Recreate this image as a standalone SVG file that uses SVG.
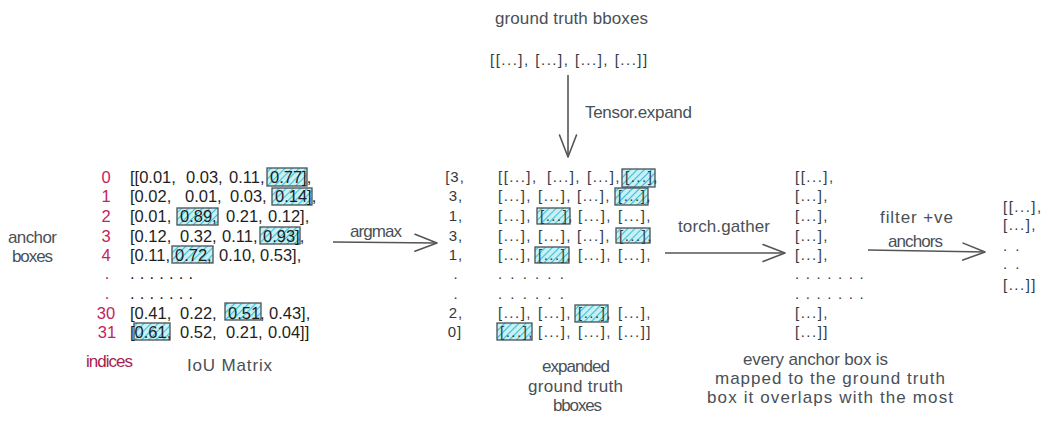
<svg xmlns="http://www.w3.org/2000/svg" width="1050" height="421" viewBox="0 0 1050 421">
<defs>
<pattern id="hatch" width="5" height="5" patternUnits="userSpaceOnUse" patternTransform="rotate(45)">
<rect width="5" height="5" fill="#c8f0f5"/>
<line x1="0" y1="0" x2="0" y2="5" stroke="#3bc0d4" stroke-width="2.2"/>
</pattern>
<marker id="ah" markerWidth="26" markerHeight="22" refX="23" refY="11" orient="auto" markerUnits="userSpaceOnUse">
<path d="M1,2.5 L23,11 L1,19.5" fill="none" stroke="#555" stroke-width="1.6" stroke-linecap="round" stroke-linejoin="round"/>
</marker>
</defs>
<style>
text{font-family:"Liberation Sans",Arial,sans-serif}
.m{font-size:16.5px;fill:#1e1e1e}
.ix{font-size:16.5px;fill:#c2255c;text-anchor:middle}
.s{font-size:15px;fill:#343a40;letter-spacing:1.5px}
.a{font-size:15px;fill:#343a40;letter-spacing:1px;text-anchor:middle}
.lb{font-size:17px;fill:#495057}
.hl{fill:url(#hatch);stroke:#495057;stroke-width:1.3}
.cn{stroke:#555;stroke-width:1.6;fill:none;marker-end:url(#ah)}
</style>
<rect width="1050" height="421" fill="#ffffff"/>

<g id="ground-truth">
<text class="lb" x="495" y="24" textLength="153">ground truth bboxes</text>
<text class="s" x="490" y="65">[[...], [...], [...], [...]]</text>
</g>

<g id="anchor-label">
<text class="lb" x="8" y="243" textLength="49">anchor</text>
<text class="lb" x="12" y="262" textLength="41">boxes</text>
</g>

<g id="indices">
<text class="ix" x="106" y="183">0</text>
<text class="ix" x="106" y="202">1</text>
<text class="ix" x="106" y="222">2</text>
<text class="ix" x="106" y="242">3</text>
<text class="ix" x="106" y="261">4</text>
<text class="ix" x="107" y="279">.</text>
<text class="ix" x="107" y="299">.</text>
<text class="ix" x="106" y="319">30</text>
<text class="ix" x="107" y="338">31</text>
<text x="86" y="367" font-size="17" fill="#a61e4d" textLength="47">indices</text>
</g>

<g id="iou-matrix">
<rect class="hl" x="267" y="168" width="40" height="18"/>
<rect class="hl" x="272" y="188" width="40" height="17"/>
<rect class="hl" x="177" y="208" width="41" height="17"/>
<rect class="hl" x="260" y="227" width="40" height="17"/>
<rect class="hl" x="172" y="246" width="41" height="17"/>
<rect class="hl" x="225" y="303" width="36" height="17"/>
<rect class="hl" x="134" y="323" width="36" height="17"/>
<text class="m" y="183"><tspan x="130">[[0.01,</tspan><tspan x="186">0.03,</tspan><tspan x="229">0.11,</tspan><tspan x="270">0.77],</tspan></text>
<text class="m" y="202"><tspan x="130">[0.02,</tspan><tspan x="185">0.01,</tspan><tspan x="230">0.03,</tspan><tspan x="275">0.14],</tspan></text>
<text class="m" y="222"><tspan x="130">[0.01,</tspan><tspan x="180">0.89,</tspan><tspan x="226">0.21,</tspan><tspan x="268">0.12],</tspan></text>
<text class="m" y="242"><tspan x="130">[0.12,</tspan><tspan x="180">0.32,</tspan><tspan x="222">0.11,</tspan><tspan x="263">0.93],</tspan></text>
<text class="m" y="261"><tspan x="130">[0.11,</tspan><tspan x="175">0.72,</tspan><tspan x="219">0.10,</tspan><tspan x="260">0.53],</tspan></text>
<text class="m" x="130" y="279" textLength="63">. . . . . . .</text>
<text class="m" x="130" y="299" textLength="63">. . . . . . .</text>
<text class="m" y="319"><tspan x="130">[0.41,</tspan><tspan x="180">0.22,</tspan><tspan x="228">0.51,</tspan><tspan x="269">0.43],</tspan></text>
<text class="m" y="338"><tspan x="130">[0.61,</tspan><tspan x="180">0.52,</tspan><tspan x="226">0.21,</tspan><tspan x="268">0.04]]</tspan></text>
<text class="lb" x="187" y="371" textLength="85">IoU Matrix</text>
</g>

<g id="argmax-result">
<text class="a" x="455" y="182">[3,</text>
<text class="a" x="456" y="201">3,</text>
<text class="a" x="456" y="221">1,</text>
<text class="a" x="456" y="241">3,</text>
<text class="a" x="456" y="260">1,</text>
<text class="a" x="456" y="279">.</text>
<text class="a" x="456" y="299">.</text>
<text class="a" x="456" y="318">2,</text>
<text class="a" x="455" y="337">0]</text>
</g>

<g id="expanded-gt">
<rect class="hl" x="622" y="169" width="33" height="18"/>
<rect class="hl" x="615" y="188" width="33" height="17"/>
<rect class="hl" x="537" y="208" width="33" height="16"/>
<rect class="hl" x="616" y="228" width="34" height="15"/>
<rect class="hl" x="535" y="247" width="34" height="16"/>
<rect class="hl" x="575" y="305" width="33" height="17"/>
<rect class="hl" x="497" y="323" width="35" height="17"/>
<text class="s" y="182"><tspan x="498">[[...],</tspan><tspan x="547">[...],</tspan><tspan x="587">[...],</tspan><tspan x="625">[...],</tspan></text>
<text class="s" y="201"><tspan x="498">[...],</tspan><tspan x="538">[...],</tspan><tspan x="577">[...],</tspan><tspan x="618">[...],</tspan></text>
<text class="s" y="221"><tspan x="498">[...],</tspan><tspan x="540">[...],</tspan><tspan x="578">[...],</tspan><tspan x="618">[...],</tspan></text>
<text class="s" y="241"><tspan x="498">[...],</tspan><tspan x="538">[...],</tspan><tspan x="577">[...],</tspan><tspan x="619">[...],</tspan></text>
<text class="s" y="260"><tspan x="498">[...],</tspan><tspan x="538">[...],</tspan><tspan x="578">[...],</tspan><tspan x="618">[...],</tspan></text>
<text class="s" x="498" y="279" style="letter-spacing:2px">. . . . . .</text>
<text class="s" x="498" y="299" style="letter-spacing:2px">. . . . . .</text>
<text class="s" y="318"><tspan x="498">[...],</tspan><tspan x="538">[...],</tspan><tspan x="578">[...],</tspan><tspan x="618">[...],</tspan></text>
<text class="s" y="337"><tspan x="500">[...],</tspan><tspan x="538">[...],</tspan><tspan x="578">[...],</tspan><tspan x="618">[...]]</tspan></text>
<text class="lb" x="542" y="372" textLength="68">expanded</text>
<text class="lb" x="528" y="392" textLength="95">ground truth</text>
<text class="lb" x="553" y="411" textLength="49">bboxes</text>
</g>

<g id="gathered">
<text class="s" x="795" y="182">[[...],</text>
<text class="s" x="795" y="201">[...],</text>
<text class="s" x="795" y="221">[...],</text>
<text class="s" x="795" y="241">[...],</text>
<text class="s" x="795" y="260">[...],</text>
<text class="s" x="795" y="279" style="letter-spacing:1.2px">. . . . . . .</text>
<text class="s" x="795" y="299" style="letter-spacing:1.2px">. . . . . . .</text>
<text class="s" x="795" y="318">[...],</text>
<text class="s" x="795" y="337">[...]]</text>
<text class="lb" x="743" y="365" textLength="145">every anchor box is</text>
<text class="lb" x="715" y="384" textLength="230">mapped to the ground truth</text>
<text class="lb" x="707" y="403" textLength="246">box it overlaps with the most</text>
</g>

<g id="filtered">
<text class="s" x="1003" y="212">[[...],</text>
<text class="s" x="1003" y="230">[...],</text>
<text class="s" x="1003" y="251" style="letter-spacing:2px">. .</text>
<text class="s" x="1003" y="269" style="letter-spacing:2px">. .</text>
<text class="s" x="1003" y="290">[...]]</text>
</g>

<g id="connectors">
<path class="cn" d="M333,242 L437,243"/>
<path class="cn" d="M568,75 L568,157"/>
<path class="cn" d="M665,253 L785,253"/>
<path class="cn" d="M868,250 L985,252"/>
<text class="lb" x="350" y="237" textLength="52">argmax</text>
<text class="lb" x="585" y="118" textLength="107">Tensor.expand</text>
<text class="lb" x="678" y="232" textLength="92">torch.gather</text>
<text class="lb" x="880" y="223" textLength="73">filter +ve</text>
<text class="lb" x="888" y="247" textLength="55">anchors</text>
</g>
</svg>
